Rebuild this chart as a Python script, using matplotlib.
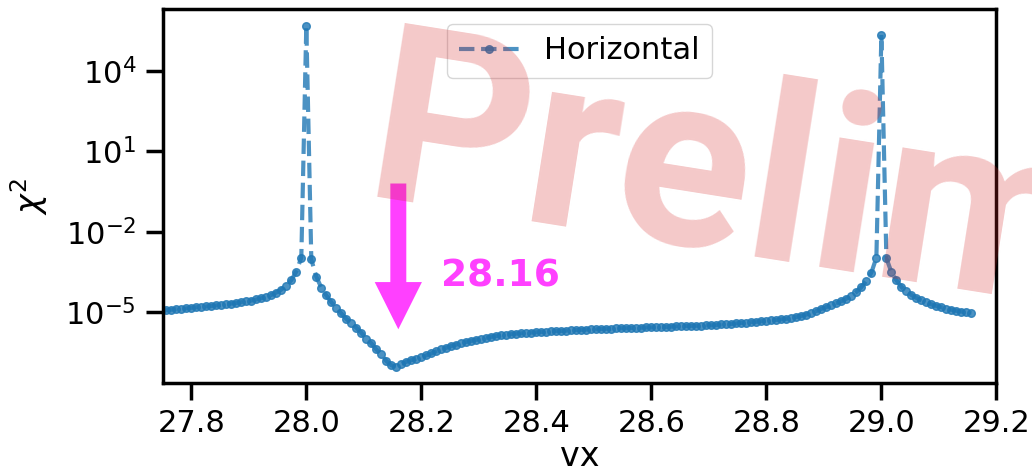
import numpy as np
import matplotlib
matplotlib.use("Agg")
import matplotlib.pyplot as plt
from matplotlib.ticker import NullLocator, FixedLocator, FormatStrFormatter

# ---------------- data ----------------
grid_step = 1.0 / 115.0          # scan step in vx
grid_origin = 28.0               # grid point that sits on the first resonance
grid_offset = 29                 # index of that grid point

log10_chi2 = [
    -4.94, -4.92, -4.90, -4.88, -4.87, -4.85, -4.83, -4.81, -4.79, -4.78,
    -4.76, -4.74, -4.72, -4.70, -4.67, -4.65, -4.62, -4.59, -4.56, -4.52,
    -4.47, -4.42, -4.35, -4.26, -4.15, -4.00, -3.80, -3.48, -2.96,
    5.67,
    -3.03, -3.67, -4.08, -4.37, -4.62, -4.83, -5.04, -5.24, -5.41, -5.57,
    -5.76, -5.98, -6.15, -6.38, -6.56, -6.81, -6.97, -7.02, -6.92,
    -6.84, -6.78, -6.72, -6.67, -6.60, -6.53, -6.45, -6.38, -6.32, -6.25,
    -6.20, -6.14, -6.10, -6.06, -6.02, -5.99, -5.95, -5.91, -5.88, -5.85,
    -5.83, -5.81, -5.79, -5.78, -5.76, -5.75, -5.74,
    -5.73, -5.72, -5.71, -5.70, -5.69, -5.68, -5.67, -5.66, -5.65, -5.64,
    -5.63, -5.63, -5.62, -5.61, -5.61, -5.60, -5.59, -5.59, -5.58, -5.57,
    -5.57, -5.56, -5.56, -5.55, -5.54, -5.54, -5.53, -5.52, -5.52, -5.51,
    -5.50, -5.50, -5.49, -5.48, -5.48, -5.47, -5.45, -5.44, -5.43, -5.41,
    -5.39, -5.38, -5.36, -5.35, -5.33,
    -5.32, -5.30, -5.28, -5.26, -5.24, -5.21, -5.17, -5.13, -5.08, -5.02,
    -4.95, -4.87, -4.80, -4.73, -4.66, -4.58, -4.49, -4.38, -4.24, -4.06,
    -3.82, -3.52, -2.96,
    5.34,
    -2.98, -3.50, -3.80, -4.05, -4.22, -4.35, -4.46, -4.55, -4.63, -4.70,
    -4.76, -4.81, -4.86, -4.90, -4.94, -4.97, -5.00, -5.03,
]

vx = grid_origin + (np.arange(len(log10_chi2)) - grid_offset) * grid_step
chi2 = np.power(10.0, np.array(log10_chi2))

series_label = "Horizontal"
xticks = [27.8, 28.0, 28.2, 28.4, 28.6, 28.8, 29.0, 29.2]
yticks = [1e-5, 1e-2, 1e1, 1e4]
best_vx = 28.16
best_label = "28.16"
watermark = "Preliminary"

# ---------------- style ----------------
plt.rcParams.update({
    "font.family": ["DejaVu Sans"],
    "font.size": 22,
    "axes.labelsize": 24,
    "xtick.labelsize": 22,
    "ytick.labelsize": 22,
    "legend.fontsize": 22,
    "axes.linewidth": 2.5,
    "xtick.major.width": 2.5,
    "ytick.major.width": 2.5,
    "xtick.major.size": 12,
    "ytick.major.size": 12,
    "xtick.major.pad": 7,
    "ytick.major.pad": 7,
    "lines.linewidth": 3,
})

fig = plt.figure(figsize=(10.32, 4.73), dpi=100)
ax = fig.add_axes([0.1575, 0.1903, 0.808, 0.7907])

ax.plot(vx, chi2, linestyle="--", marker="o", color="C0", alpha=0.8,
        lw=3, markersize=5.5, label=series_label)
ax.set_yscale("log")
ax.set_xlim(27.75, 29.2)
ax.set_ylim(10 ** -7.63, 10 ** 6.3)
ax.yaxis.set_major_locator(FixedLocator(yticks))
ax.yaxis.set_minor_locator(NullLocator())
ax.xaxis.set_major_locator(FixedLocator(xticks))
ax.xaxis.set_major_formatter(FormatStrFormatter("%.1f"))

ax.set_xlabel("vx", labelpad=1)
ax.set_ylabel(r"$\chi^2$", labelpad=11)
ax.legend(loc="upper center")

# arrow marking the minimum
ax.annotate("", xy=(best_vx, 10 ** -5.63), xytext=(best_vx, 10 ** -0.2),
            arrowprops=dict(facecolor="magenta", edgecolor="none", alpha=0.75,
                            width=11.5, headwidth=34, headlength=34, shrink=0))
ax.text(28.235, 10 ** -4.03, best_label, color="magenta", alpha=0.75,
        fontsize=27, fontweight="bold", family=["DejaVu Sans"],
        ha="left", va="baseline")

# watermark
fig.text(0.349, 0.5835, watermark, fontsize=178, fontweight="bold",
         family=["Roboto", "DejaVu Sans"], color="C3",
         alpha=0.25, rotation=-9, rotation_mode="anchor",
         ha="left", va="baseline", zorder=10)

fig.savefig("out.png", dpi=100)
